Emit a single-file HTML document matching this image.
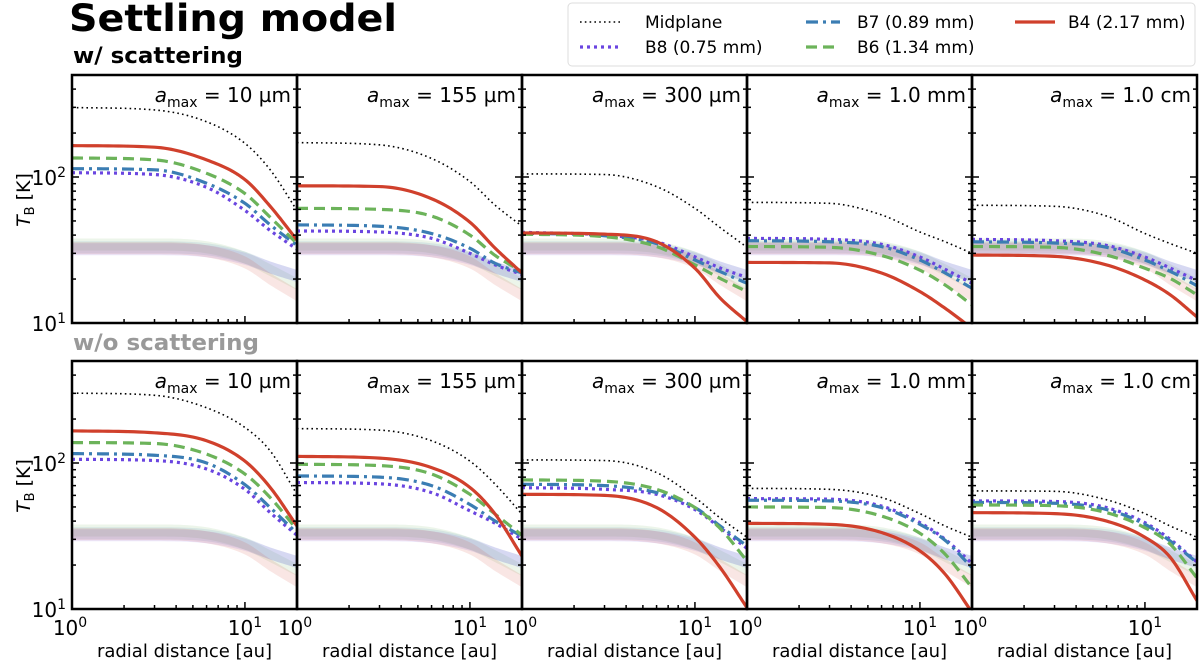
<!DOCTYPE html>
<html><head><meta charset="utf-8">
<style>
html,body{margin:0;padding:0;background:#fff;}
svg{display:block;font-family:"DejaVu Sans","Liberation Sans",sans-serif;}
</style></head>
<body>
<svg id="fig" width="1200" height="662" viewBox="0 0 1200 662" xmlns="http://www.w3.org/2000/svg">
<text x="69" y="31" font-size="37" font-weight="bold" fill="#000" textLength="328" lengthAdjust="spacingAndGlyphs">Settling model</text>
<text x="73" y="63" font-size="22" font-weight="bold" fill="#000" textLength="170" lengthAdjust="spacingAndGlyphs">w/ scattering</text>
<text x="73" y="350" font-size="22" font-weight="bold" fill="#999" textLength="186" lengthAdjust="spacingAndGlyphs">w/o scattering</text>
<g>
<rect x="568" y="3" width="627" height="63" rx="4" fill="#fff" stroke="#ddd" stroke-width="1"/>
<g><line x1="580" y1="22" x2="620" y2="22" stroke="#000" stroke-width="1.6" stroke-dasharray="1.6 3.2"/><text x="645" y="28" font-size="17">Midplane</text></g>
<g><line x1="580" y1="47" x2="620" y2="47" stroke="#6a45e0" stroke-width="3.2" stroke-dasharray="3 4"/><text x="645" y="53" font-size="17">B8 (0.75 mm)</text></g>
<g><line x1="806" y1="22" x2="840" y2="22" stroke="#3b7db3" stroke-width="3.2" stroke-dasharray="12 5 3 5"/><text x="857" y="28" font-size="17">B7 (0.89 mm)</text></g>
<g><line x1="806" y1="47" x2="840" y2="47" stroke="#6cb35a" stroke-width="3.2" stroke-dasharray="11 6"/><text x="857" y="53" font-size="17">B6 (1.34 mm)</text></g>
<g><line x1="1015" y1="22" x2="1055" y2="22" stroke="#d0402c" stroke-width="3.2"/><text x="1068" y="28" font-size="17">B4 (2.17 mm)</text></g>
</g>
<text transform="translate(30,200) rotate(-90)" font-size="19" text-anchor="middle"><tspan font-style="italic">T</tspan><tspan font-size="13" dy="4">B</tspan><tspan dy="-4"> [K]</tspan></text>
<text transform="translate(30,486) rotate(-90)" font-size="19" text-anchor="middle"><tspan font-style="italic">T</tspan><tspan font-size="13" dy="4">B</tspan><tspan dy="-4"> [K]</tspan></text>
</svg>
<script>
const rSamples=[1,3,6,10,14,20];
const panelLabels=["10 µm","155 µm","300 µm","1.0 mm","1.0 cm"];
const yTicksMajor=[10,100];
const yTickLabels=["1","2"];
const xTicksMajor=[1,10];
const xTickLabels=["0","1"];
// with scattering
const midW=[[299,288,239,170,112,59],[172,166,134,93,64,46],[105,104,86,61,45,33],[67,66,55,42,36,30],[64,63,54,41,35,30]];
const b4W=[[164,160,131,96,63,37],[87,86,71,49,32.5,22],[41.4,40.6,36,23.7,14.8,10.2],[26,25.8,22,16.4,12.6,9.2],[29.2,28.6,25,19.7,15.6,11]];
const b6W=[[135,131,106,77,53,35],[61,60,54,40,29,22.5],[40.6,39,33.4,25,20.2,16.4],[33.4,33,29,23,18.2,13.3],[33.4,33,29.2,23.7,20.2,15.6]];
const b7W=[[114,112,90.6,66,47,34],[47,46,41,32.5,25.6,22],[41.2,39.6,35,27,22.5,18.7],[36.6,36,33.4,27,22,17.3],[36,35.3,33,27,22.6,18]];
const b8W=[[107,104,85,59,43,32],[42.7,42,38,30,25,21.5],[41.8,40,36,28.4,23.8,20.5],[38,37.4,34.6,28.3,23.3,18.7],[37.4,36.6,34,28.3,23.8,19.5]];
// without scattering
const midO=[[301,291,239,175,121,61],[172,168,142,103,71.5,44.6],[105,104,86,58,42,31],[67,66,58,45,37,31],[64.4,64,56,45,37,31]];
const b4O=[[166,161,142,103,68,37],[111,108,93,68,44.6,23],[61,60,49.5,31,19.2,10.2],[38.6,38,33.4,25,17.3,9.5],[45.7,45,40,31,22.6,11.4]];
const b6O=[[138,136,115,84,58,35],[98,96,84,61,44.6,32],[76.6,75,66,49.5,35.6,21.3],[50,49.5,43.3,33,23.7,14],[51.6,51,45.7,36,27.8,16.3]];
const b7O=[[116,113,100,71,49.5,33],[81.5,80,70,52,40,31.5],[71.5,70,62.7,49.5,37,27],[55.6,55,49.5,38,29.5,19.2],[53.7,53,48,38,29.2,20.8]];
const b8O=[[106,104,91,66,45.7,32],[73.5,72,62.7,47,38.6,30],[67.8,66,61,48,36,26],[57,56.5,50.7,39,30,20.5],[55,54.5,49.5,39,30,21]];
// faint bands (centres)
const bandGreen=[34.5,34.5,33,28,23,18.5];
const bandBlue=[33,33,32,28,24,21];
const bandPurple=[32,32,31,27.5,24,21];
const bandRed=[32.5,32.5,31,26,20,15.5];

const NS="http://www.w3.org/2000/svg";
const svg=document.getElementById('fig');
const PW=225, PH=248, X0=72, XMAX=20, YMIN=10, YMAX=Math.pow(10,1+248/146);
const rows=[{top:75,data:[midW,b8W,b7W,b6W,b4W],name:'with-scattering'},{top:361,data:[midO,b8O,b7O,b6O,b4O],name:'without-scattering'}];
const styles=[
 {c:'#000',w:1.6,d:'1.6 3.2',n:'midplane'},
 {c:'#6a45e0',w:3.2,d:'3 4',n:'b8'},
 {c:'#3b7db3',w:3.2,d:'12 5 3 5',n:'b7'},
 {c:'#6cb35a',w:3.2,d:'11 6',n:'b6'},
 {c:'#d0402c',w:3.2,d:'',n:'b4'}];
const bands=[[bandGreen,'#6cb35a'],[bandBlue,'#3b7db3'],[bandPurple,'#6a45e0'],[bandRed,'#d0402c']];
function mk(t,a,p){const e=document.createElementNS(NS,t);for(const k in a)e.setAttribute(k,a[k]);(p||svg).appendChild(e);return e;}
function xS(i,r){return X0+i*PW+PW*Math.log10(r)/Math.log10(XMAX);}
function yS(top,T){return top+PH-PH*(Math.log10(T)-1)/Math.log10(YMAX/YMIN);}
// monotone cubic (Fritsch-Carlson) on pixel points, densely sampled
function smooth(pts){
 const n=pts.length,xs=pts.map(p=>p[0]),ys=pts.map(p=>p[1]);
 const d=[],m=new Array(n);
 for(let k=0;k<n-1;k++)d.push((ys[k+1]-ys[k])/(xs[k+1]-xs[k]));
 m[0]=d[0];m[n-1]=d[n-2];
 for(let k=1;k<n-1;k++){m[k]=(d[k-1]*d[k]<=0)?0:(d[k-1]+d[k])/2;}
 for(let k=0;k<n-1;k++){if(d[k]===0){m[k]=0;m[k+1]=0;continue;}const a=m[k]/d[k],b=m[k+1]/d[k],s=a*a+b*b;if(s>9){const t=3/Math.sqrt(s);m[k]=t*a*d[k];m[k+1]=t*b*d[k];}}
 const out=[];
 for(let k=0;k<n-1;k++){const h=xs[k+1]-xs[k];const N=16;
  for(let j=0;j<N;j++){const t=j/N;const h00=2*t*t*t-3*t*t+1,h10=t*t*t-2*t*t+t,h01=-2*t*t*t+3*t*t,h11=t*t*t-t*t;
   out.push([xs[k]+t*h,h00*ys[k]+h10*h*m[k]+h01*ys[k+1]+h11*h*m[k+1]]);}}
 out.push(pts[n-1]);return out;
}
function poly(pts){return pts.map((p,k)=>(k?'L':'M')+p[0].toFixed(2)+','+p[1].toFixed(2)).join(' ');}
const defs=mk('defs',{});
rows.forEach((row,ri)=>{
 for(let i=0;i<5;i++){
  const x0=X0+i*PW, top=row.top;
  const cid='clip'+ri+'_'+i;
  const cp=mk('clipPath',{id:cid},defs);
  mk('rect',{x:x0,y:top,width:PW,height:PH},cp);
  const g=mk('g',{'clip-path':'url(#'+cid+')'});
  
  
  bands.forEach(([arr,col])=>{
   const up=smooth(rSamples.map((r,k)=>[xS(i,r),yS(top,arr[k]*1.1)]));
   const lo=smooth(rSamples.map((r,k)=>[xS(i,r),yS(top,arr[k]/1.1)])).reverse();
   const b=mk('path',{d:poly(up.concat(lo))+' Z',fill:col,'fill-opacity':0.13,stroke:'none'},g);
   
   
  });
  row.data.forEach((ser,si)=>{
   const st=styles[si];
   const pts=smooth(rSamples.map((r,k)=>[xS(i,r),yS(top,ser[i][k])]));
   const p=mk('path',{d:poly(pts),fill:'none',stroke:st.c,'stroke-width':st.w},g);
   if(st.d)p.setAttribute('stroke-dasharray',st.d);
   
   
  });
  const tg=mk('g',{stroke:'#000','stroke-width':1.5});
  
  
  for(let dec=10;dec<=100;dec*=10){for(let m=1;m<=9;m++){const T=dec*m;if(T<YMIN||T>YMAX)continue;const y=yS(top,T);const L=(m===1)?7:4;
   mk('line',{x1:x0,y1:y,x2:x0+L,y2:y},tg);mk('line',{x1:x0+PW,y1:y,x2:x0+PW-L,y2:y},tg);}}
  for(let dec=1;dec<=10;dec*=10){for(let m=1;m<=9;m++){const r=dec*m;if(r<=1||r>=XMAX)continue;const x=xS(i,r);const L=(m===1)?7:4;
   mk('line',{x1:x,y1:top+PH,x2:x,y2:top+PH-L},tg);}}
  const fr=mk('rect',{x:x0,y:top,width:PW,height:PH,fill:'none',stroke:'#000','stroke-width':2.5});
  
  
  const lab=mk('text',{x:x0+PW-6,y:top+27,'font-size':20,'text-anchor':'end'});
  lab.innerHTML='<tspan font-style="italic">a</tspan><tspan font-size="14" dy="5">max</tspan><tspan dy="-5"> = '+panelLabels[i]+'</tspan>';
  
  
  if(ri===1){
   xTicksMajor.forEach((r,k)=>{
    const t=mk('text',{x:xS(i,r)+(k===0?-2:0),y:top+PH+26,'font-size':20,'text-anchor':'middle'});
    t.innerHTML='10<tspan font-size="14" dy="-8">'+xTickLabels[k]+'</tspan>';
    
    
   });
   const xl=mk('text',{x:x0+PW/2,y:top+PH+48,'font-size':18,'text-anchor':'middle'});
   xl.textContent='radial distance [au]';
   
   
  }
  if(i===0){
   yTicksMajor.forEach((T,k)=>{
    const t=mk('text',{x:x0-6,y:yS(top,T)+8,'font-size':20,'text-anchor':'end'});
    t.innerHTML='10<tspan font-size="14" dy="-8">'+yTickLabels[k]+'</tspan>';
    
    
   });
  }
 }
});
</script>
</body></html>
